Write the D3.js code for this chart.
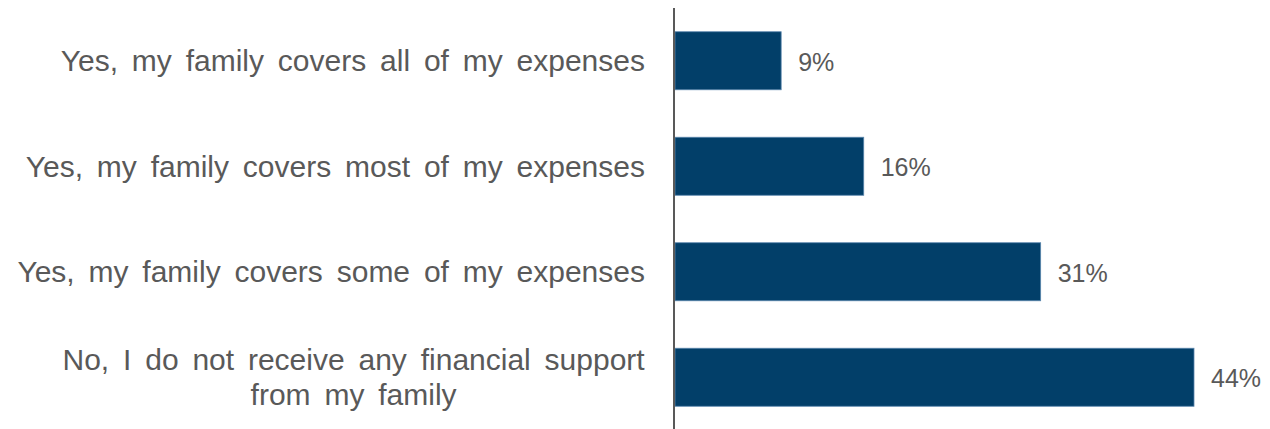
<!DOCTYPE html>
<html>
<head>
<meta charset="utf-8">
<script src="https://cdn.jsdelivr.net/npm/d3@7"></script>
<style>
  html, body { margin: 0; padding: 0; background: #fff; }
  svg { display: block; }
  text { font-family: "Liberation Sans", Arial, sans-serif; }
</style>
</head>
<body>
<svg id="chart" width="1270" height="429"></svg>
<script>
const categories = [
  "Yes, my family covers all of my expenses",
  "Yes, my family covers most of my expenses",
  "Yes, my family covers some of my expenses",
  "No, I do not receive any financial support\nfrom my family"
];
const values = [9, 16, 31, 44];
const valueLabels = ["9%", "16%", "31%", "44%"];

const data = categories.map((c, i) => ({ cat: c, value: values[i], label: valueLabels[i] }));

const svg = d3.select("#chart");
const axisX = 675;
const x = d3.scaleLinear().domain([0, 44]).range([axisX, 1194]);
const y = d3.scaleBand().domain(categories).range([8, 430]).paddingInner(0.45).paddingOuter(0.225);

const textColor = "#595959";

// bars
svg.append("g").selectAll("rect").data(data).join("rect")
  .attr("x", x(0))
  .attr("y", d => y(d.cat))
  .attr("width", d => x(d.value) - x(0))
  .attr("height", y.bandwidth())
  .attr("fill", "#023F69")
  .attr("stroke", "#5a86ad")
  .attr("stroke-width", 0.8);

// axis line
const yAxis = d3.axisLeft(y).tickSize(0).tickFormat("");
const ag = svg.append("g").attr("transform", `translate(${axisX - 1},0)`).call(yAxis);
ag.select(".domain").attr("stroke", textColor).attr("stroke-width", 2).attr("d", "M0,8V429");

// category labels
const labelRight = 645;
const catFont = 30;
const wordSp = 5.5;
const lineH = 35;
const lg = svg.append("g");
data.forEach(d => {
  const lines = d.cat.split("\n");
  const cy = y(d.cat) + y.bandwidth() / 2;
  const t = lg.append("text")
    .attr("fill", textColor)
    .attr("font-size", catFont)
    .attr("word-spacing", wordSp);
  if (lines.length === 1) {
    t.attr("text-anchor", "end").attr("x", labelRight).attr("y", cy + 10.5).text(lines[0]);
  } else {
    const tmp = lg.append("text").attr("font-size", catFont).attr("word-spacing", wordSp).text(lines[0]);
    const w = tmp.node().getBBox().width;
    tmp.remove();
    const cx = labelRight - w / 2;
    t.attr("text-anchor", "middle");
    lines.forEach((ln, i) => {
      t.append("tspan")
        .attr("x", cx)
        .attr("y", cy + 10.5 - ((lines.length - 1) * lineH) / 2 + i * lineH)
        .text(ln);
    });
  }
});

// value labels
svg.append("g").selectAll("text").data(data).join("text")
  .attr("x", d => x(d.value) + 17)
  .attr("y", d => y(d.cat) + y.bandwidth() / 2 + 10)
  .attr("fill", textColor)
  .attr("font-size", 25)
  .text(d => d.label);
</script>
</body>
</html>
